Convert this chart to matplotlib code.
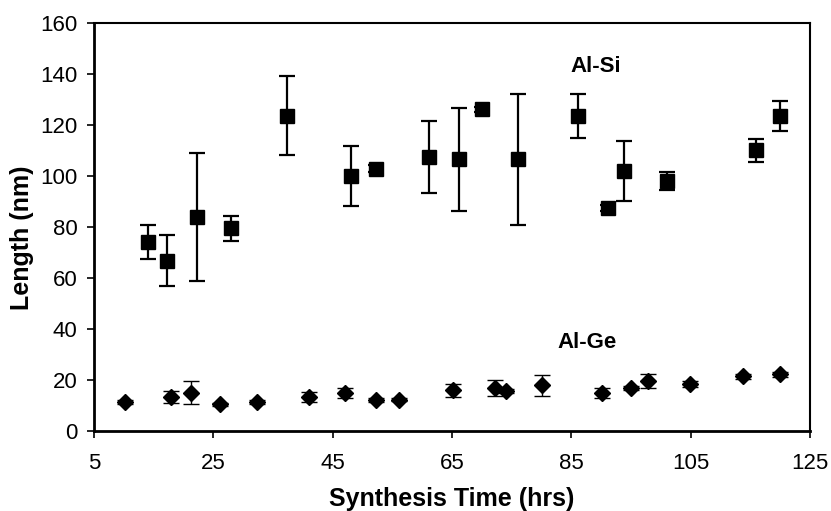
import matplotlib.pyplot as plt

plt.rcParams["font.family"] = ["Liberation Sans", "DejaVu Sans"]

# Al-Si series (square markers)
si_time = [14.0, 17.2, 22.2, 27.9, 37.3, 48.0, 52.2, 61.1, 66.1, 70.0, 76.1,
           86.1, 91.1, 93.9, 101.1, 116.0, 119.9]
si_length = [74.1, 66.9, 84.0, 79.5, 123.7, 100.1, 103.0, 107.5, 106.6, 126.3, 106.6,
             123.7, 87.5, 102.0, 98.1, 110.1, 123.6]
si_err = [6.8, 10.0, 25.2, 5.0, 15.5, 11.7, 1.5, 14.0, 20.3, 1.0, 25.7,
          8.7, 1.0, 11.8, 3.7, 4.4, 5.9]

# Al-Ge series (diamond markers)
ge_time = [10.2, 17.9, 21.2, 26.2, 32.4, 41.1, 47.1, 52.2, 56.2, 65.1, 72.2,
           74.1, 80.1, 90.1, 95.0, 97.9, 104.9, 113.7, 119.9]
ge_length = [11.4, 13.2, 15.0, 10.4, 11.4, 13.2, 15.0, 12.3, 12.3, 15.9, 16.9,
             15.8, 17.9, 14.9, 16.9, 19.6, 18.6, 21.5, 22.3]
ge_err = [0.8, 2.3, 4.5, 0.5, 0.7, 2.0, 2.0, 0.8, 0.6, 2.6, 3.1,
          0.8, 4.1, 1.8, 0.8, 2.7, 1.2, 1.0, 1.0]

x_ticks = [5, 25, 45, 65, 85, 105, 125]
y_ticks = [0, 20, 40, 60, 80, 100, 120, 140, 160]

fig = plt.figure(figsize=(8.31, 5.11), dpi=100)
ax = fig.add_axes([0.1131, 0.1566, 0.8616, 0.7978])

ax.errorbar(si_time, si_length, yerr=si_err, fmt="s", color="black",
            markersize=10, elinewidth=1.6, capsize=6, capthick=1.6, zorder=3)
ax.errorbar(ge_time, ge_length, yerr=ge_err, fmt="D", color="black",
            markersize=8.5, elinewidth=1.0, capsize=5.5, capthick=1.0, zorder=3)

ax.text(89.1, 143.2, "Al-Si", fontsize=16, fontweight="bold", ha="center", va="center")
ax.text(87.7, 34.9, "Al-Ge", fontsize=16, fontweight="bold", ha="center", va="center")

ax.set_xlim(5, 125)
ax.set_ylim(0, 160)
ax.set_xticks(x_ticks)
ax.set_yticks(y_ticks)
ax.tick_params(axis="both", direction="out", length=5, width=1.2, labelsize=16)
ax.tick_params(axis="x", pad=11)
ax.tick_params(axis="y", pad=7)

for side in ["left", "bottom"]:
    ax.spines[side].set_linewidth(2.0)
for side in ["top", "right"]:
    ax.spines[side].set_linewidth(1.5)

ax.set_xlabel("Synthesis Time (hrs)", fontsize=18, fontweight="bold", labelpad=9)
ax.set_ylabel("Length (nm)", fontsize=18, fontweight="bold")
ax.yaxis.set_label_coords(-0.084, 0.473)

fig.savefig("out.png", dpi=100)
